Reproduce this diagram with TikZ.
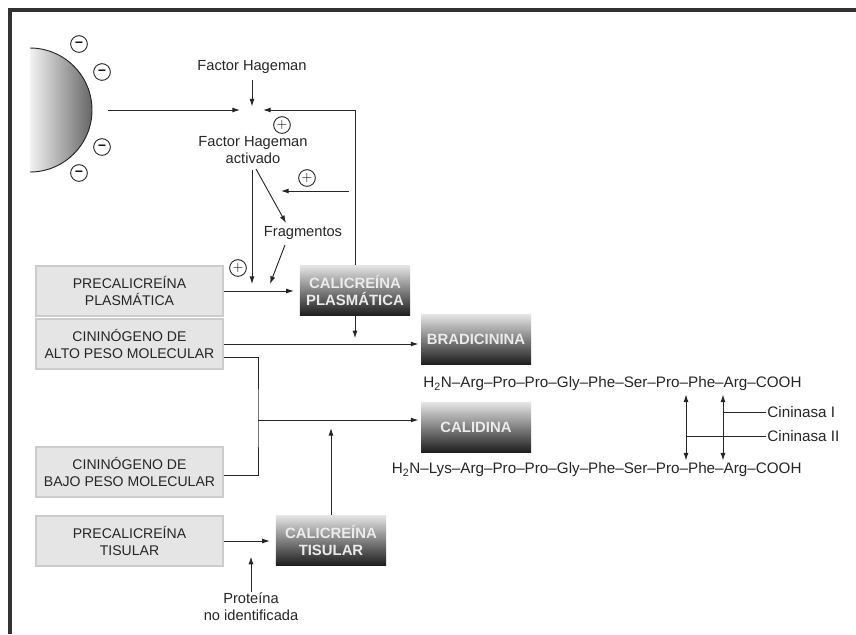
\documentclass[tikz,border=0pt]{standalone}
\usepackage{fontspec}
\setmainfont{Liberation Sans}
\usetikzlibrary{positioning,calc,arrows.meta}

\tikzset{
  txt/.style={font=\fontsize{12.5}{14.5}\selectfont, text=black!85, align=center, inner sep=1pt},
  pep/.style={txt, font=\fontsize{13}{15}\selectfont},
  greybox/.style={txt, font=\fontsize{12}{14.5}\selectfont, draw=black!20, line width=1.6pt, fill=black!10, minimum width=5.61cm, minimum height=1.52cm, inner sep=0pt},
  darkbox/.style={txt, font=\fontsize{12.7}{14.5}\selectfont\bfseries, text=black!8, top color=black!10, bottom color=black!88, minimum width=3.3cm, minimum height=1.5cm, inner sep=0pt},
  sign/.style={circle, draw=black!85, line width=0.8pt, inner sep=0pt, minimum size=0.5cm, font=\fontsize{12}{12}\selectfont},
  arr/.style={-{Latex[length=2.3mm,width=1.5mm]}, line width=0.8pt, draw=black!85},
  darr/.style={{Latex[length=2.3mm,width=1.5mm]}-{Latex[length=2.3mm,width=1.5mm]}, line width=0.8pt, draw=black!85},
  ln/.style={line width=0.8pt, draw=black!85}
}

\begin{document}
\begin{tikzpicture}[x=0.03cm, y=-0.03cm]
  \useasboundingbox (0,0) rectangle (856,634);
  \draw[line width=3.4pt, black!80] (10,634) -- (10,10) -- (856,10);
  \shade[left color=black!5, right color=black!60, draw=black!85, line width=0.8pt] (30,48) arc[start angle=-90, end angle=90, radius=62];

  \foreach \p [count=\i] in {(79,44),(102,72),(102,147),(79,173)}
    \node[sign] (minus\i) at \p {\bfseries --};
  \node[sign] (plus1) at (282,125) {$+$};
  \node[sign] (plus2) at (307,178) {$+$};
  \node[sign] (plus3) at (238,268) {$+$};

  \node[txt] (fh) at (252,67) {Factor Hageman};
  \node[txt] (fha) at (253,150) {Factor Hageman\\activado};
  \node[txt] (frag) at (303,233) {Fragmentos};

  \node[greybox] (pp) at (129.5,291) {PRECALICREÍNA\\PLASMÁTICA};
  \node[greybox] (aa) at (129.5,344) {CININÓGENO DE\\ALTO PESO MOLECULAR};
  \node[greybox] (bb) at (129.5,472) {CININÓGENO DE\\BAJO PESO MOLECULAR};
  \node[greybox] (pt) at (129.5,541) {PRECALICREÍNA\\TISULAR};

  \node[darkbox] (cp) at (355,290) {CALICREÍNA\\PLASMÁTICA};
  \node[darkbox] (brad) at (476,339) {BRADICININA};
  \node[darkbox] (cal) at (476,427) {CALIDINA};
  \node[darkbox] (ct) at (331,540) {CALICREÍNA\\TISULAR};

  \node[pep, anchor=east] (pep1) at (803,384) {H\textsubscript{2}N--Arg--Pro--Pro--Gly--Phe--Ser--Pro--Phe--Arg--COOH};
  \node[pep, anchor=east] (pep2) at (803,470) {H\textsubscript{2}N--Lys--Arg--Pro--Pro--Gly--Phe--Ser--Pro--Phe--Arg--COOH};
  \node[pep, anchor=west] (cin1) at (766,412) {Cininasa I};
  \node[pep, anchor=west] (cin2) at (766,436) {Cininasa II};
  \node[txt] (prot) at (251,607) {Proteína\\no identificada};

  \coordinate (surf) at (108,110);
  \coordinate (fhin) at (252,110);
  \coordinate (fb2) at (349,191);
  \coordinate (hit) at (252,284);
  \coordinate (mrg) at (258,420);
  \coordinate (k1) at (723,0);
  \coordinate (k2) at (686,0);

  \draw[arr, shorten <=4pt, shorten >=3pt] (fh) -- (fhin);
  \draw[arr] (surf) -- ($(fhin)+(-12,0)$);
  \draw[arr] (cp.north) |- ($(fhin)+(11,0)$);
  \draw[arr] (fb2) -- ++(-68,0);
  \draw[arr, shorten <=4pt] (fha.south -| hit) -- (hit);
  \draw[arr] ($(fha.south)+(3,4)$) -- ($(frag.north)+(-17,-2)$);
  \draw[arr] ($(frag.south)+(-18,4)$) -- ($(hit)+(18,0)$);
  \draw[arr, shorten >=5pt] (pp.east) -- (pp.east -| cp.west);
  \draw[arr] (cp.south) -- ++(0,23);
  \draw[arr, shorten >=2pt] (aa.east) -- (aa.east -| brad.west);
  \draw[ln] ($(aa.east)+(0,13)$) -| (mrg) |- ($(bb.east)+(0,3)$);
  \draw[arr, shorten >=2pt] (mrg) -- (mrg -| cal.west);
  \draw[arr] (ct.north) -- ($(ct.north |- mrg)+(0,8)$);
  \draw[arr, shorten >=5pt] (pt.east) -- (pt.east -| ct.west);
  \draw[arr] (prot.north) -- ++(0,-35);
  \draw[darr] ($(k2 |- pep1.south)+(0,2)$) -- ($(k2 |- pep2.north)+(0,-1)$);
  \draw[darr] ($(k1 |- pep1.south)+(0,2)$) -- ($(k1 |- pep2.north)+(0,-1)$);
  \draw[ln] (cin1.west) -- (k1 |- cin1.west);
  \draw[ln] (cin2.west) -- (k2 |- cin2.west);
\end{tikzpicture}
\end{document}
